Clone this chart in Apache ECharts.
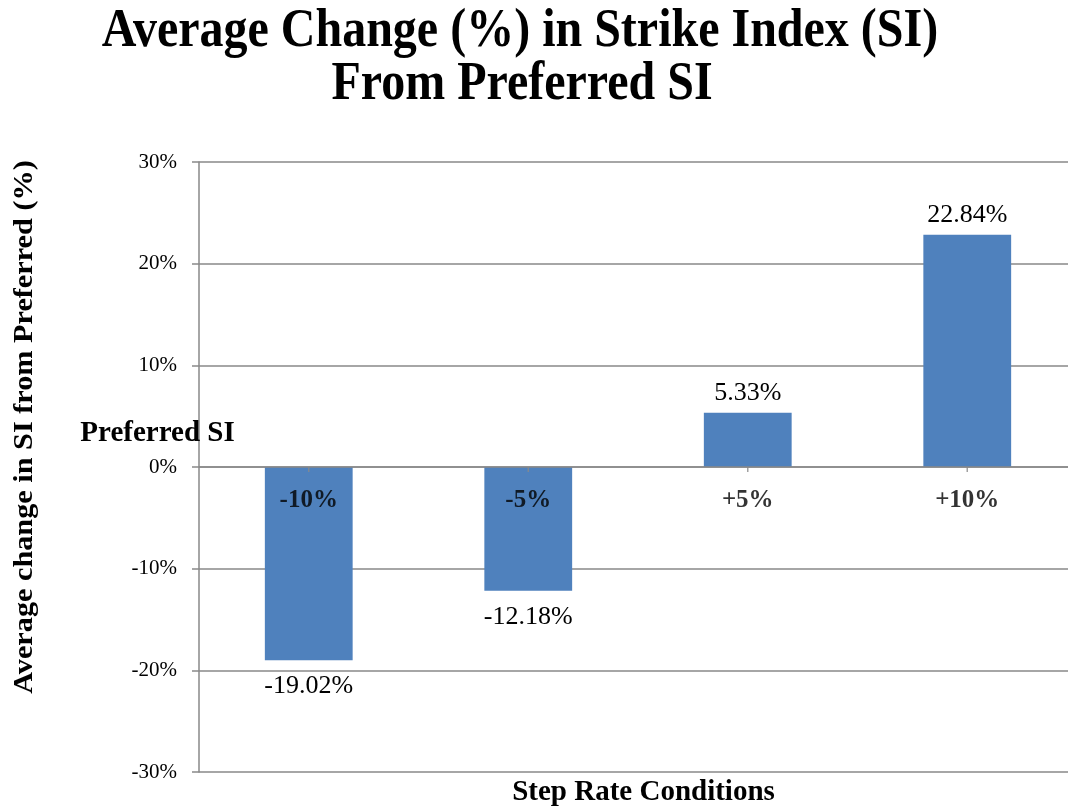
<!DOCTYPE html>
<html>
<head>
<meta charset="utf-8">
<script src="https://cdn.jsdelivr.net/npm/echarts@6/dist/echarts.min.js"></script>
<style>
  html, body { margin: 0; padding: 0; background: #fff; }
  #main { width: 1068px; height: 808px; }
</style>
</head>
<body>
<div id="main"></div>
<script>
// step rate conditions and the average change in SI (%)
var categories = ['-10%', '-5%', '+5%', '+10%'];
var changes = [-19.02, -12.18, 5.33, 22.84];
var yMin = -30, yMax = 30, yStep = 10;

var serif = '"Liberation Serif", "Times New Roman", serif';
var gray = '#898989';

onload = function () {
    var myChart = echarts.init(document.getElementById('main'));

    // labels sit above positive bars and below negative ones
    var barData = changes.map(function (v) {
        return {
            value: v,
            label: { position: v < 0 ? 'bottom' : 'top', distance: v < 0 ? 13 : 7 }
        };
    });
    // category names hang under the zero line (Excel style axis on zero)
    var zeroData = categories.map(function (c) { return [c, 0]; });

    myChart.setOption({
        backgroundColor: '#fff',
        animation: false,
        grid: { left: 199, right: -9, top: 162, bottom: 36, outerBoundsMode: 'none', containLabel: false },
        xAxis: {
            type: 'category',
            data: categories,
            axisLine: { show: false },
            axisTick: { show: false },
            axisLabel: { show: false }
        },
        yAxis: {
            type: 'value',
            min: yMin,
            max: yMax,
            interval: yStep,
            axisLine: { show: true, lineStyle: { color: gray, width: 1.5 } },
            axisTick: { show: true, length: 7, lineStyle: { color: gray, width: 1.5 } },
            splitLine: { lineStyle: { color: gray, width: 1.5 } },
            axisLabel: {
                formatter: '{value}%',
                margin: 22,
                color: '#000',
                fontFamily: serif,
                fontSize: 21
            }
        },
        series: [{
            type: 'bar',
            barWidth: '40%',
            data: barData,
            itemStyle: { color: '#4f81bd' },
            label: {
                show: true,
                formatter: function (p) { return p.value.toFixed(2) + '%'; },
                color: '#000',
                fontFamily: serif,
                fontSize: 26
            }
        }, {
            type: 'scatter',
            z: 4,
            silent: true,
            data: zeroData,
            symbol: 'rect',
            symbolSize: [1.5, 5],
            symbolOffset: [0, 2.5],
            itemStyle: { color: gray },
            label: {
                show: true,
                position: 'inside',
                offset: [0, 31],
                formatter: function (p) { return p.value[0]; },
                color: '#000',
                fontFamily: serif,
                fontWeight: 'bold',
                fontSize: 25
            },
            markLine: {
                silent: true,
                symbol: 'none',
                label: { show: false },
                lineStyle: { color: gray, width: 1.5, type: 'solid' },
                data: [{ yAxis: 0 }]
            }
        }],
        graphic: [
            {
                type: 'text', x: 520, y: 31.5, scaleY: 1.16,
                style: {
                    text: 'Average Change (%) in Strike Index (SI)',
                    font: 'bold 48px ' + serif, fill: '#000',
                    align: 'center', verticalAlign: 'middle'
                }
            },
            {
                type: 'text', x: 522, y: 84.5, scaleY: 1.16,
                style: {
                    text: 'From Preferred SI',
                    font: 'bold 48px ' + serif, fill: '#000',
                    align: 'center', verticalAlign: 'middle'
                }
            },
            {
                type: 'text', x: 25, y: 427, rotation: Math.PI / 2, scaleX: 1.08,
                style: {
                    text: 'Average change in SI from Preferred (%)',
                    font: 'bold 28px ' + serif, fill: '#000',
                    align: 'center', verticalAlign: 'middle'
                }
            },
            {
                type: 'text', x: 157.5, y: 434, z: 10,
                style: {
                    text: 'Preferred SI',
                    font: 'bold 29px ' + serif, fill: '#000',
                    align: 'center', verticalAlign: 'middle'
                }
            },
            {
                type: 'text', x: 643.5, y: 793,
                style: {
                    text: 'Step Rate Conditions',
                    font: 'bold 29px ' + serif, fill: '#000',
                    align: 'center', verticalAlign: 'middle'
                }
            }
        ]
    });
};
</script>
</body>
</html>
